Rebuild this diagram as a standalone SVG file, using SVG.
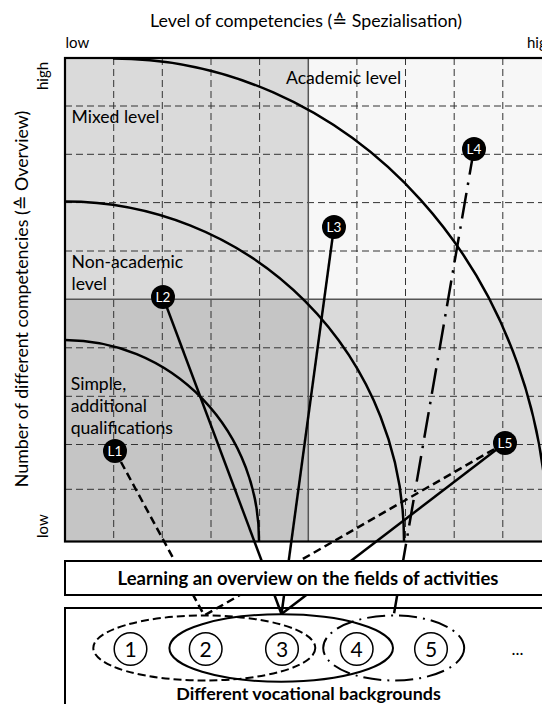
<svg xmlns="http://www.w3.org/2000/svg" width="542" height="704" viewBox="0 0 542 704">
<style>
text{font-family:Lato,"DejaVu Sans",sans-serif;fill:#000}
.lbl{font-size:17.6px}
.ax{font-size:15px}
.ttl{font-size:17.8px}
.bold{font-weight:bold;text-anchor:middle}
.grid line{stroke:#333;stroke-width:1;stroke-dasharray:7 4}
.div{stroke:#555;stroke-width:1.5}
.arc{fill:none;stroke:#000;stroke-width:2.5}
.con{fill:none;stroke:#000;stroke-width:2.5}
.dash{stroke-dasharray:8 4.5}
.dashdot{stroke-dasharray:26 8 2.5 8}
.node circle{fill:#000}
.node text{fill:#fff;font-size:13.5px;text-anchor:middle}
.num circle{fill:none;stroke:#000;stroke-width:1.5}
.num text{font-size:21px;text-anchor:middle}
.grp{fill:none;stroke:#000;stroke-width:2}
.box{fill:#fff;stroke:#000;stroke-width:2}
</style>
<defs>
<clipPath id="chartclip"><rect x="65" y="58" width="486.5" height="483.5"/></clipPath>
</defs>

<g id="chart">
<rect x="65" y="58" width="243.3" height="241.3" fill="#dadada"/>
<rect x="308.3" y="58" width="243.2" height="241.3" fill="#f7f7f7"/>
<rect x="65" y="299.3" width="243.3" height="242.2" fill="#c5c5c5"/>
<rect x="308.3" y="299.3" width="243.2" height="242.2" fill="#dadada"/>
<g class="grid">
<line x1="113.7" y1="58" x2="113.7" y2="541.5"/>
<line x1="162.3" y1="58" x2="162.3" y2="541.5"/>
<line x1="211" y1="58" x2="211" y2="541.5"/>
<line x1="259.6" y1="58" x2="259.6" y2="541.5"/>
<line x1="356.9" y1="58" x2="356.9" y2="541.5"/>
<line x1="405.5" y1="58" x2="405.5" y2="541.5"/>
<line x1="454.2" y1="58" x2="454.2" y2="541.5"/>
<line x1="502.8" y1="58" x2="502.8" y2="541.5"/>
<line x1="65" y1="106" x2="551.5" y2="106"/>
<line x1="65" y1="154.3" x2="551.5" y2="154.3"/>
<line x1="65" y1="202.6" x2="551.5" y2="202.6"/>
<line x1="65" y1="251" x2="551.5" y2="251"/>
<line x1="65" y1="347.8" x2="551.5" y2="347.8"/>
<line x1="65" y1="396.3" x2="551.5" y2="396.3"/>
<line x1="65" y1="444.5" x2="551.5" y2="444.5"/>
<line x1="65" y1="489.3" x2="551.5" y2="489.3"/>
</g>
<line class="div" x1="308.3" y1="58" x2="308.3" y2="541.5"/>
<line class="div" x1="65" y1="299.3" x2="551.5" y2="299.3"/>
<rect x="65" y="58" width="486.5" height="483.5" fill="none" stroke="#000" stroke-width="2.2"/>
<g clip-path="url(#chartclip)">
<path class="arc" d="M65 340 A194 200 0 0 1 259 541.5"/>
<path class="arc" d="M65 201.5 A339 339 0 0 1 404 541.5"/>
<path class="arc" d="M113 58.5 A434.7 481.5 0 0 1 547.7 541.5"/>
</g>
</g>

<g id="axis-labels">
<text class="ttl" x="306" y="27" text-anchor="middle">Level of competencies (≙ Spezialisation)</text>
<text class="ax" x="65.5" y="47.5">low</text>
<text class="ax" x="527" y="47.5">high</text>
<text class="ax" transform="translate(48,90) rotate(-90)">high</text>
<text class="ax" transform="translate(48,538) rotate(-90)">low</text>
<text class="ttl" transform="translate(28,299) rotate(-90)" text-anchor="middle">Number of different competencies (≙ Overview)</text>
</g>

<g id="level-labels">
<text class="lbl" x="286" y="84">Academic level</text>
<text class="lbl" x="71.5" y="123">Mixed level</text>
<text class="lbl" x="71.5" y="268">Non-academic</text>
<text class="lbl" x="71.5" y="290">level</text>
<text class="lbl" x="70.7" y="390">Simple,</text>
<text class="lbl" x="70.7" y="412">additional</text>
<text class="lbl" x="70.7" y="434">qualifications</text>
</g>

<g id="backgrounds-box">
<rect class="box" x="65" y="608" width="500" height="120"/>
<text class="bold" x="308.5" y="700" font-size="17.9">Different vocational backgrounds</text>
</g>

<g id="connectors">
<line class="con dash" x1="115" y1="451" x2="204.3" y2="615.5"/>
<line class="con" x1="163" y1="297" x2="281.5" y2="614"/>
<line class="con" x1="334" y1="227" x2="281.5" y2="614"/>
<line class="con dashdot" x1="474" y1="149" x2="393.7" y2="615.5"/>
<line class="con" x1="505" y1="443" x2="281.5" y2="614"/>
<line class="con dash" x1="505" y1="443" x2="204.3" y2="615.5"/>
</g>

<g id="learning-box">
<rect class="box" x="65" y="561" width="500" height="34"/>
<text class="bold" x="308" y="584.5" font-size="18.5">Learning an overview on the fields of activities</text>
</g>

<g id="groupings">
<ellipse class="grp" cx="204.3" cy="648" rx="111" ry="32.5" stroke-dasharray="8 4"/>
<ellipse class="grp" cx="281.2" cy="648" rx="111.8" ry="33.7"/>
<ellipse class="grp" cx="393.7" cy="648" rx="70.5" ry="32.5" stroke-dasharray="18 6 2 6"/>
</g>

<g id="backgrounds">
<g id="bg1" class="num"><circle cx="130.5" cy="649" r="16.3"/><text x="130.5" y="656.5">1</text></g>
<g id="bg2" class="num"><circle cx="205.7" cy="649" r="16.3"/><text x="205.7" y="656.5">2</text></g>
<g id="bg3" class="num"><circle cx="282" cy="649" r="16.3"/><text x="282" y="656.5">3</text></g>
<g id="bg4" class="num"><circle cx="356.7" cy="649" r="16.3"/><text x="356.7" y="656.5">4</text></g>
<g id="bg5" class="num"><circle cx="431" cy="649" r="16.3"/><text x="431" y="656.5">5</text></g>
<text x="517.5" y="655" font-size="17" text-anchor="middle">...</text>
</g>

<g id="L1" class="node"><circle cx="115" cy="451" r="12"/><text x="115" y="455.5">L1</text></g>
<g id="L2" class="node"><circle cx="163" cy="297" r="12"/><text x="163" y="301.5">L2</text></g>
<g id="L3" class="node"><circle cx="334" cy="227" r="12"/><text x="334" y="231.5">L3</text></g>
<g id="L4" class="node"><circle cx="474" cy="149" r="12"/><text x="474" y="153.5">L4</text></g>
<g id="L5" class="node"><circle cx="505" cy="443" r="12"/><text x="505" y="447.5">L5</text></g>
</svg>
